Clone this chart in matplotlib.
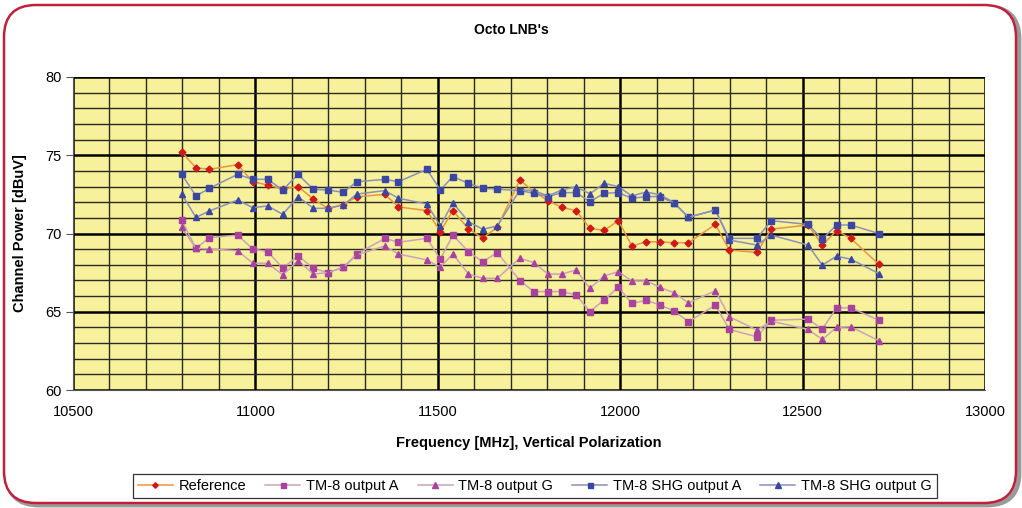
import matplotlib
matplotlib.use("Agg")
import matplotlib.pyplot as plt
from matplotlib.patches import FancyBboxPatch
from matplotlib.ticker import MultipleLocator

plt.rcParams['font.family'] = ['Liberation Sans', 'DejaVu Sans']

freq = [10798, 10837, 10874, 10951, 10993, 11034, 11075, 11117, 11159, 11199,
        11241, 11278, 11355, 11392, 11470, 11507, 11541, 11584, 11623, 11663,
        11725, 11763, 11802, 11840, 11879, 11917, 11956, 11995, 12032, 12071,
        12110, 12148, 12187, 12261, 12299, 12375, 12414, 12515, 12554, 12593,
        12632, 12709]

reference = [75.2, 74.2, 74.1, 74.4, 73.3, 73.1, 72.85, 73.0, 72.2, 71.6,
             71.85, 72.35, 72.5, 71.7, 71.46, 70.12, 71.46, 70.3, 69.7, 70.4,
             73.42, 72.68, 72.1, 71.67, 71.46, 70.33, 70.2, 70.82, 69.2, 69.47,
             69.47, 69.41, 69.41, 70.58, 68.94, 68.79, 70.28, 70.54, 69.26, 70.18,
             69.69, 68.03]

tm8_a = [70.86, 69.05, 69.74, 69.9, 69.01, 68.84, 67.78, 68.57, 67.78, 67.5,
         67.84, 68.69, 69.69, 69.44, 69.69, 68.35, 69.9, 68.84, 68.2, 68.78,
         66.99, 66.29, 66.29, 66.29, 66.08, 65.01, 65.76, 66.57, 65.53, 65.74,
         65.42, 65.04, 64.36, 65.42, 63.87, 63.4, 64.46, 64.53, 63.89, 65.25,
         65.25, 64.46]

tm8_g = [70.39, 69.05, 69.01, 68.9, 68.1, 68.1, 67.35, 68.27, 67.41, 67.5,
         67.84, 68.63, 69.2, 68.69, 68.31, 67.84, 68.69, 67.41, 67.14, 67.14,
         68.42, 68.14, 67.41, 67.41, 67.67, 66.5, 67.29, 67.56, 66.97, 66.97,
         66.55, 66.21, 65.57, 66.34, 64.68, 63.83, 64.4, 63.87, 63.23, 64.0,
         64.04, 63.15]

shg_a = [73.78, 72.4, 72.89, 73.78, 73.46, 73.46, 72.78, 73.78, 72.82, 72.78,
         72.63, 73.31, 73.46, 73.31, 74.1, 72.78, 73.63, 73.21, 72.89, 72.83,
         72.74, 72.57, 72.36, 72.61, 72.61, 72.04, 72.57, 72.61, 72.25, 72.36,
         72.36, 71.93, 71.04, 71.5, 69.69, 69.69, 70.82, 70.58, 69.64, 70.54,
         70.54, 70.0]

shg_g = [72.52, 71.03, 71.44, 72.14, 71.65, 71.76, 71.22, 72.35, 71.61, 71.61,
         71.82, 72.52, 72.74, 72.25, 71.89, 70.48, 71.97, 70.76, 70.27, 70.48,
         72.78, 72.74, 72.4, 72.78, 72.99, 72.53, 73.21, 72.99, 72.4, 72.65,
         72.47, 71.97, 71.04, 71.5, 69.58, 69.26, 69.9, 69.26, 67.98, 68.55,
         68.36, 67.44]

series_names = ["Reference", "TM-8 output A", "TM-8 output G",
                "TM-8 SHG output A", "TM-8 SHG output G"]

fig = plt.figure(figsize=(10.22, 5.08), dpi=100)
fig.patch.set_facecolor('white')

# decorative frame (drawn beneath the axes)
shadow = FancyBboxPatch((0.07, 0.03), 10.12, 4.98,
                        boxstyle="round,pad=0,rounding_size=0.32",
                        transform=fig.dpi_scale_trans, facecolor='none',
                        edgecolor='#9a9a9a', lw=3.5, zorder=-3)
fig.patches.append(shadow)
frame = FancyBboxPatch((0.04, 0.05), 10.12, 4.98,
                       boxstyle="round,pad=0,rounding_size=0.32",
                       transform=fig.dpi_scale_trans, facecolor='white',
                       edgecolor='#c0203c', lw=1.8, zorder=-2)
fig.patches.append(frame)

ax = fig.add_axes([73/1022, 1 - 390/508, (985 - 73)/1022, (390 - 77)/508])
ax.set_zorder(1)
ax.set_facecolor('#f7f19c')

ax.set_xlim(10500, 13000)
ax.set_ylim(60, 80)
ax.xaxis.set_major_locator(MultipleLocator(500))
ax.xaxis.set_minor_locator(MultipleLocator(100))
ax.yaxis.set_major_locator(MultipleLocator(5))
ax.yaxis.set_minor_locator(MultipleLocator(1))
ax.grid(which='minor', color='#2a2a1e', lw=1.0, zorder=1)
ax.grid(which='major', color='black', lw=1.8, zorder=1)
ax.set_axisbelow(True)

for s in ['top', 'right']:
    ax.spines[s].set_visible(False)
ax.spines['left'].set_color('#555555')
ax.spines['bottom'].set_color('#555555')
ax.tick_params(axis='y', which='major', length=5, color='#555555', labelsize=10.5, pad=3)
ax.tick_params(axis='x', which='major', length=0, labelsize=10.5, pad=11)
ax.tick_params(which='minor', length=0)

styles = [
    (reference, 'D', '#d01818', '#e8963c', 3.5),
    (tm8_a, 's', '#a8429e', '#c9a3b9', 4.5),
    (tm8_g, '^', '#a8429e', '#c9a3b9', 5.0),
    (shg_a, 's', '#3a46a2', '#8a90b6', 4.5),
    (shg_g, '^', '#3a46a2', '#8a90b6', 5.0),
]
for (vals, mk, mc, lc, ms), name in zip(styles, series_names):
    ax.plot(freq, vals, color=lc, lw=1.1, marker=mk, markersize=ms,
            markerfacecolor=mc, markeredgecolor=mc, label=name, zorder=3)

fig.text(0.5, 1 - 30/508, "Octo LNB's", ha='center', va='center',
         fontsize=10, fontweight='bold')
ax.set_xlabel("Frequency [MHz], Vertical Polarization", fontsize=10.5,
              fontweight='bold', labelpad=12)
ax.set_ylabel("Channel Power [dBuV]", fontsize=10.5, fontweight='bold', labelpad=13)

leg = fig.legend(loc='center', bbox_to_anchor=(535/1022, 1 - 486/508), ncol=5,
                 fontsize=10.5, frameon=True, fancybox=False, handlelength=2.4,
                 handletextpad=0.4, columnspacing=1.3, borderpad=0.35,
                 markerscale=0.8)
leg.get_frame().set_edgecolor('black')
leg.get_frame().set_linewidth(0.9)

fig.savefig("out.png", dpi=100)
